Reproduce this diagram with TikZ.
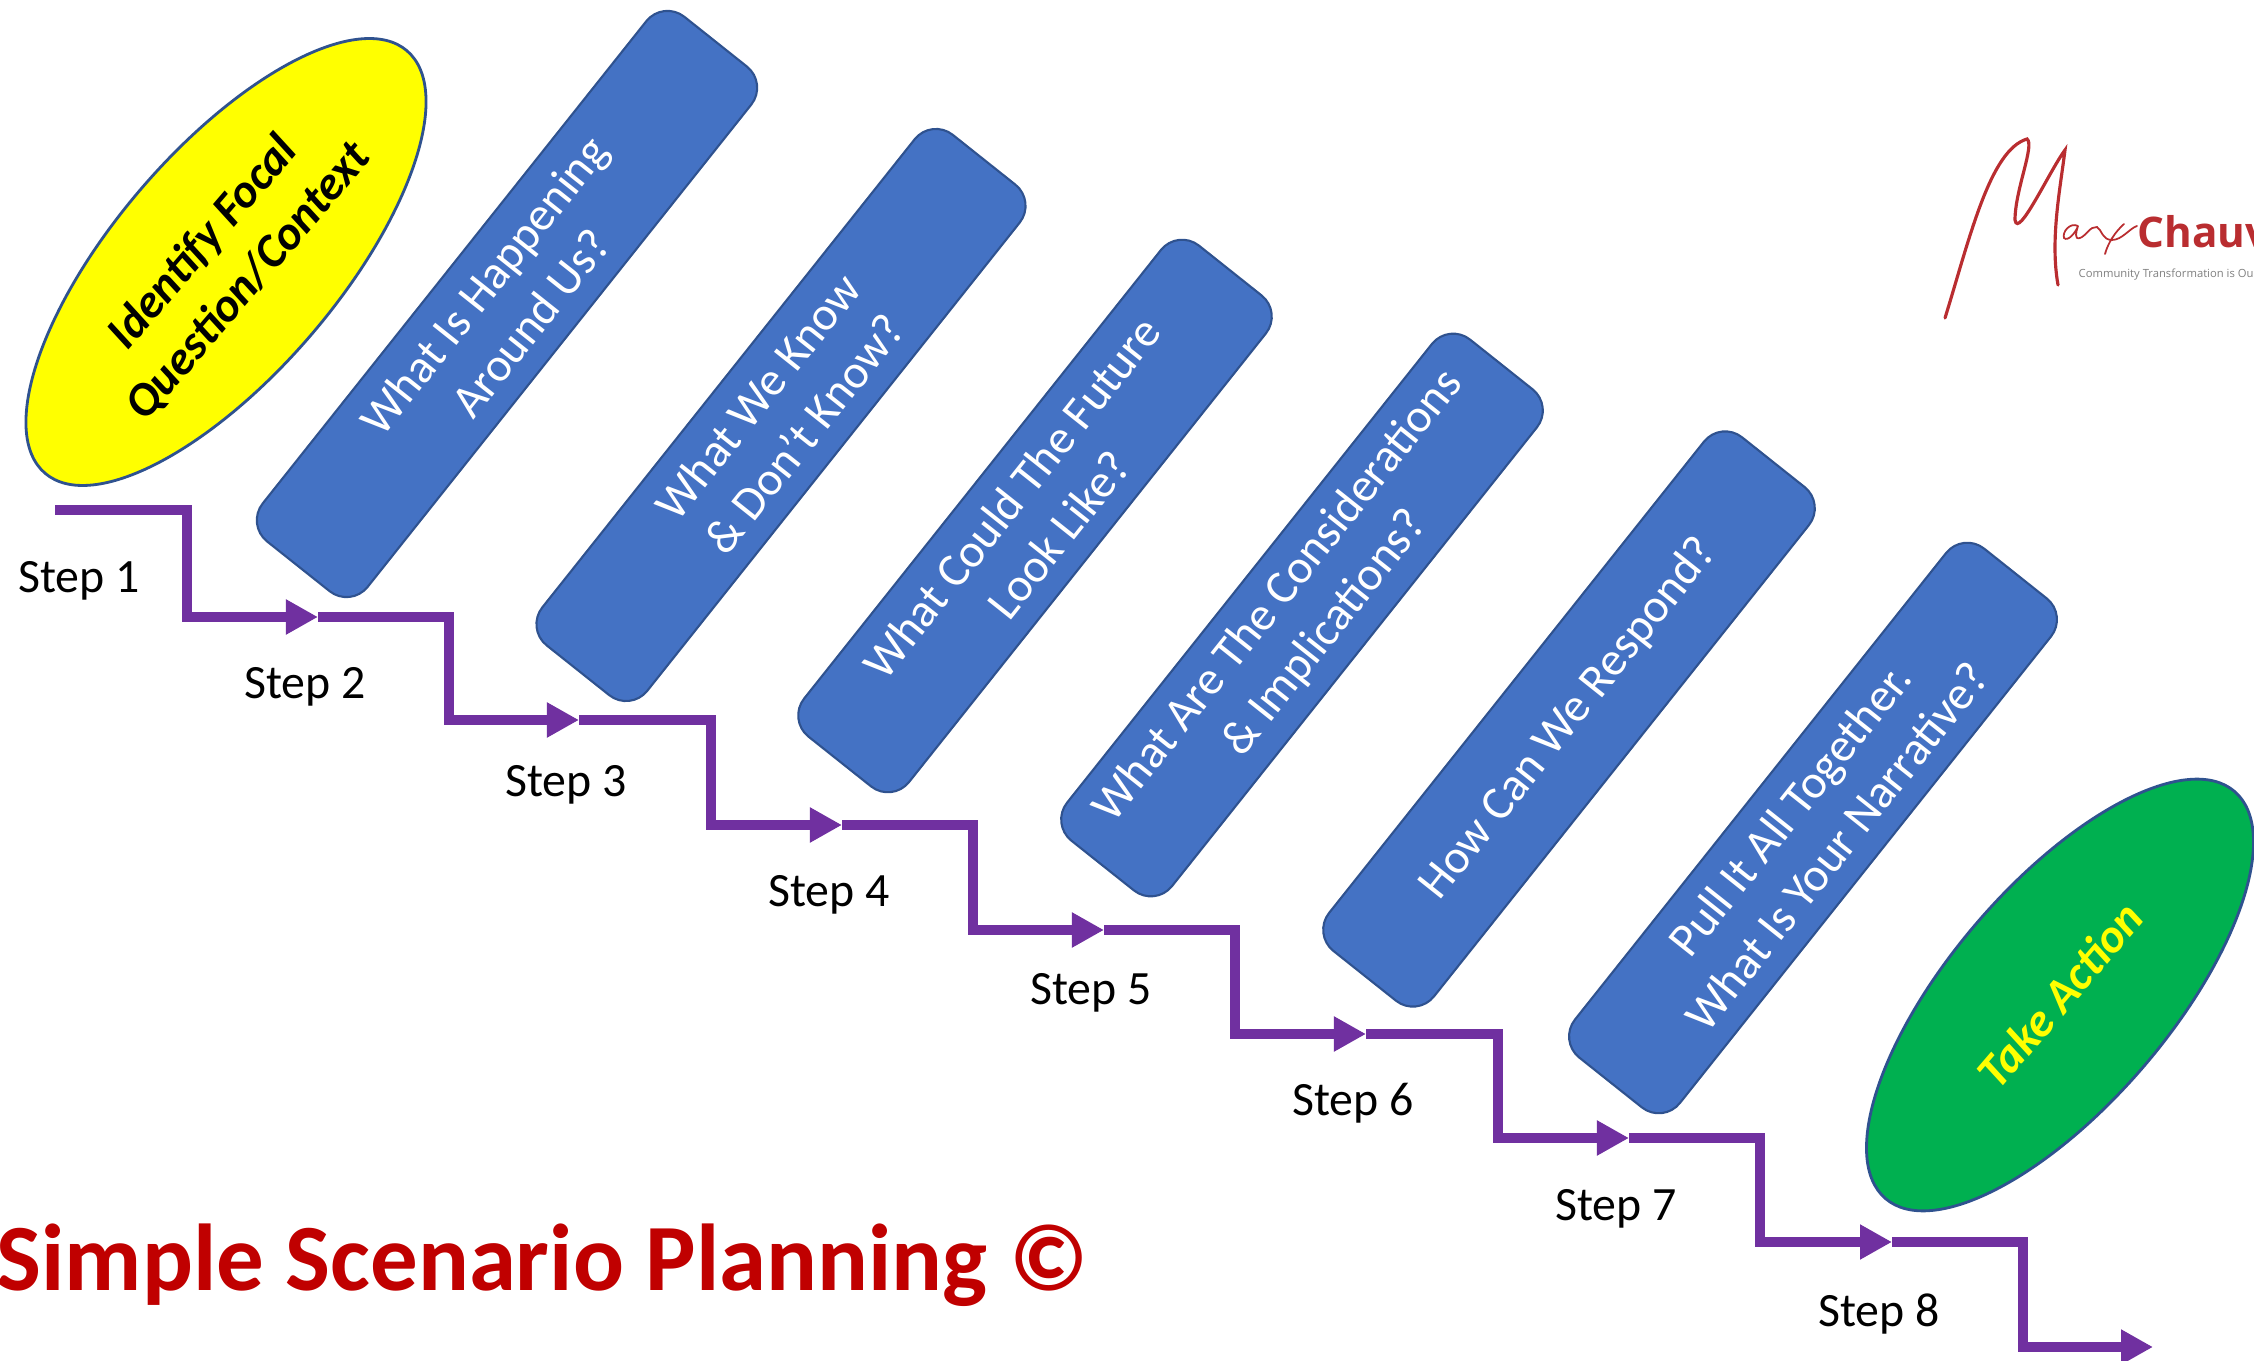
\documentclass[tikz,border=0pt]{standalone}
\usepackage{fontspec}
\setmainfont{Carlito}
\newfontfamily\logofont{Open Sans}
\usetikzlibrary{positioning, shapes.geometric, arrows.meta}

\definecolor{boxblue}{HTML}{4472C4}
\definecolor{edgeblue}{HTML}{2F528F}
\definecolor{flowpurple}{HTML}{7030A0}
\definecolor{titlered}{HTML}{C00000}
\definecolor{logored}{HTML}{B92D30}
\definecolor{actiongreen}{HTML}{00B050}
\definecolor{focalyellow}{RGB}{255,255,0}

\tikzset{
  questionbox/.style={rectangle, draw=edgeblue, line width=0.6pt, fill=boxblue, rounded corners=0.27cm, rotate=51.5,
    minimum height=1.34cm, text=white, align=center, inner sep=0pt, font=\fontsize{13.5}{17}\selectfont},
  goalellipse/.style={ellipse, draw=edgeblue, line width=0.8pt, rotate=49.4, align=center, inner sep=0pt,
    font=\fontsize{13.5}{17}\selectfont\bfseries\itshape},
  flowline/.style={draw=flowpurple, line width=0.1cm, miter limit=10},
  flowarrow/.style={flowline, -{Triangle[length=0.32cm, width=0.33cm]}},
  steplabel/.style={inner sep=0pt, font=\fontsize{13.6}{16}\selectfont},
}

\begin{document}
\begin{tikzpicture}[x=0.01cm, y=-0.01cm]
\clip (0,0) rectangle (2254,1361);

% Goal ellipses
\node[goalellipse, fill=focalyellow, minimum width=5.56cm, minimum height=2.24cm] (focal) at (226,262) {Identify Focal\\Question/Context};
\node[goalellipse, fill=actiongreen, text=focalyellow, minimum width=5.36cm, minimum height=2.2cm] (action) at (2060,995) {Take Action};

% Question boxes
\node[questionbox, minimum width=6.70cm] (happening) at (507,304) {What Is Happening\\Around Us?};
\node[questionbox, minimum width=6.52cm] (know) at (781,415) {What We Know\\\& Don’t Know?};
\node[questionbox, minimum width=6.27cm] (future) at (1035,516) {What Could The Future\\Look Like?};
\node[questionbox, minimum width=6.40cm] (considerations) at (1302,615) {What Are The Considerations\\\& Implications?};
\node[questionbox, minimum width=6.56cm] (respond) at (1569,719) {How Can We Respond?};
\node[questionbox, minimum width=6.50cm] (narrative) at (1813,828) {Pull It All Together.\\What Is Your Narrative?};

% Stair points
\coordinate (p1) at (55,510);
\coordinate (p2) at (318,617);
\coordinate (p3) at (579,720);
\coordinate (p4) at (842,825);
\coordinate (p5) at (1104,930);
\coordinate (p6) at (1366,1034);
\coordinate (p7) at (1629,1138);
\coordinate (p8) at (1892,1242);
\coordinate (p9) at (2153,1347);
\coordinate (c1) at (187,617);
\coordinate (c2) at (449,720);
\coordinate (c3) at (711,825);
\coordinate (c4) at (973,930);
\coordinate (c5) at (1235,1034);
\coordinate (c6) at (1498,1138);
\coordinate (c7) at (1760,1242);
\coordinate (c8) at (2023,1347);

% Stair connections
\draw[flowarrow] (p1) -| (c1) -- (p2);
\draw[flowarrow] (p2) -| (c2) -- (p3);
\draw[flowarrow] (p3) -| (c3) -- (p4);
\draw[flowarrow] (p4) -| (c4) -- (p5);
\draw[flowarrow] (p5) -| (c5) -- (p6);
\draw[flowarrow] (p6) -| (c6) -- (p7);
\draw[flowarrow] (p7) -| (c7) -- (p8);
\draw[flowarrow] (p8) -| (c8) -- (p9);

% Step labels
\node[steplabel, below=0.51cm of p1, xshift=0.24cm] (step1) {Step 1};
\node[steplabel, below=0.50cm of p2, xshift=-0.13cm] (step2) {Step 2};
\node[steplabel, below=0.45cm of p3, xshift=-0.13cm] (step3) {Step 3};
\node[steplabel, below=0.50cm of p4, xshift=-0.13cm] (step4) {Step 4};
\node[steplabel, below=0.43cm of p5, xshift=-0.13cm] (step5) {Step 5};
\node[steplabel, below=0.48cm of p6, xshift=-0.13cm] (step6) {Step 6};
\node[steplabel, below=0.51cm of p7, xshift=-0.13cm] (step7) {Step 7};
\node[steplabel, below=0.51cm of p8, xshift=-0.13cm] (step8) {Step 8};

% Title
\node[anchor=base west, inner sep=0pt, text=titlered, font=\fontsize{27}{32}\selectfont\bfseries] (title) at (-4,1290) {Simple Scenario Planning ©};

% Logo
\draw[logored, line width=0.9pt, line cap=round] (1945,318) .. controls (1970,237) and (1990,150) .. (2027,139)
  .. controls (2035,145) and (2015,190) .. (2015,220) .. controls (2018,240) and (2050,170) .. (2065,150)
  .. controls (2060,190) and (2050,240) .. (2058,285);
\draw[logored, line width=0.5pt, line cap=round] (2078,226) .. controls (2070,222) and (2062,232) .. (2064,238)
  .. controls (2068,242) and (2076,232) .. (2078,226) .. controls (2076,232) and (2074,240) .. (2080,238)
  .. controls (2086,236) and (2090,226) .. (2097,227) .. controls (2102,230) and (2102,240) .. (2112,240)
  .. controls (2122,240) and (2130,228) .. (2137,226);
\draw[logored, line width=0.5pt, line cap=round] (2105,254) .. controls (2108,243) and (2115,232) .. (2124,224);
\node[anchor=base west, inner sep=0pt, text=logored, font=\logofont\fontsize{12}{14}\selectfont\bfseries] (chauv) at (2137,248) {Chauv};
\node[anchor=base west, inner sep=0pt, text=gray, font=\logofont\fontsize{3.2}{4}\selectfont] (motto) at (2078,278) {Community Transformation is Our};

\end{tikzpicture}
\end{document}
